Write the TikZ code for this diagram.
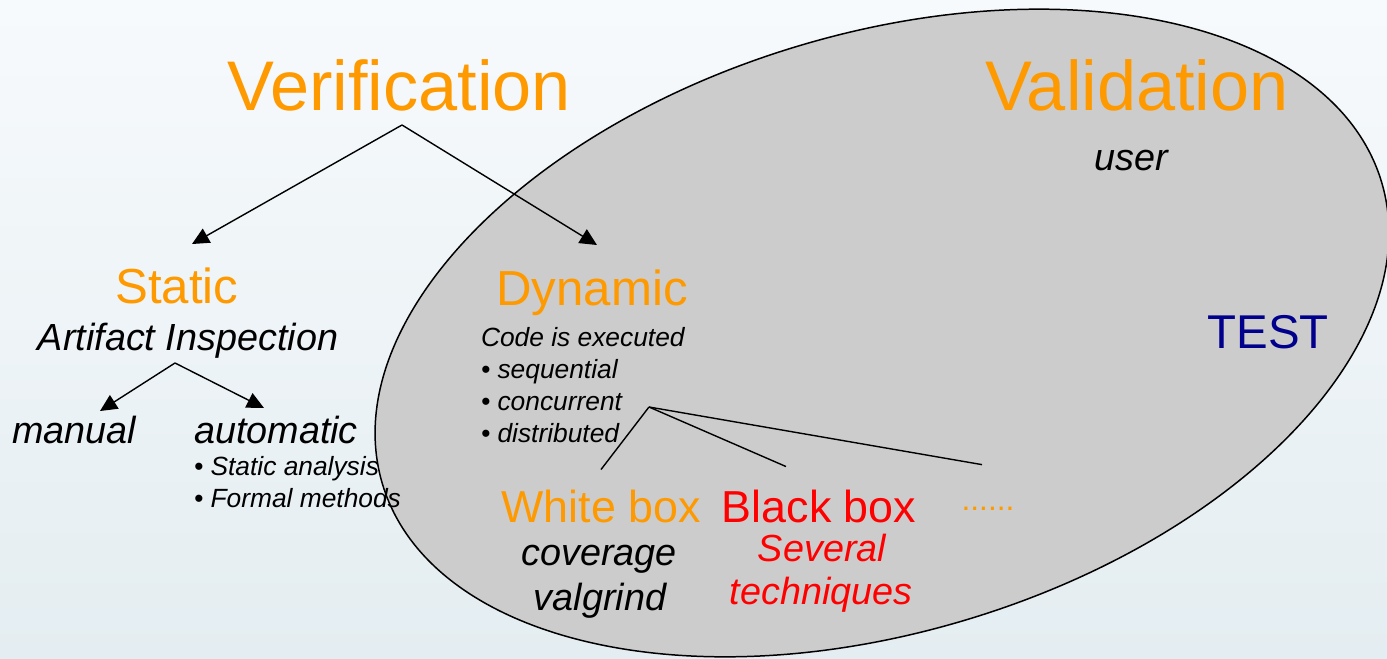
\documentclass[tikz,border=0pt]{standalone}
\usepackage{fontspec}
\setmainfont{Liberation Sans}
\usetikzlibrary{arrows.meta}
\definecolor{vvorange}{RGB}{255,153,0}
\definecolor{vvred}{RGB}{255,0,0}
\definecolor{vvblue}{RGB}{0,0,140}
\definecolor{vvgray}{RGB}{204,204,204}
\definecolor{bgtop}{RGB}{247,250,252}
\definecolor{bgmid}{RGB}{242,247,249}
\definecolor{bgbot}{RGB}{228,237,241}

\begin{document}
\begin{tikzpicture}[x=0.02cm,y=-0.02cm,
    every node/.style={inner sep=0pt,outer sep=0pt,anchor=base},
    title node/.style={text=vvorange,font=\fontsize{40}{48}\selectfont},
    branch node/.style={text=vvorange,font=\fontsize{28}{34}\selectfont},
    leaf node/.style={font=\fontsize{21.5}{26}\selectfont\itshape},
    item node/.style={anchor=base west,font=\fontsize{15}{18}\selectfont\itshape},
    box node/.style={font=\fontsize{25.5}{30}\selectfont},
    arr/.style={-{Triangle[length=0.34cm,width=0.32cm]},line width=0.8pt},
    fan/.style={line width=0.8pt}]

    \useasboundingbox (0,0) rectangle (1387,659);
    \clip (0,0) rectangle (1387,659);
    \shade[top color=bgtop,middle color=bgmid,bottom color=bgbot] (0,0) rectangle (1387,659);
    \draw[fill=vvgray,line width=0.85pt,rotate around={16.9:(882,333)}]
        (882,333) ellipse [x radius=10.44cm,y radius=5.98cm];

    \node[title node] (verif) at (399,110) {Verification};
    \node[title node] (valid) at (1137,110) {Validation};
    \node[leaf node] (user) at (1131,170) {user};
    \node[font=\fontsize{27}{32}\selectfont,text=vvblue] (test) at (1268,348) {TEST};

    \node[branch node] (static) at (177,303) {Static};
    \node[leaf node] (artifact) at (188,350) {Artifact Inspection};
    \node[leaf node] (manual) at (74,443) {manual};
    \node[leaf node] (automatic) at (276,443) {automatic};
    \node[item node] (analysis) at (194,475) {\textbullet\ Static analysis};
    \node[item node] (formal) at (194,507) {\textbullet\ Formal methods};

    \node[branch node] (dynamic) at (592,305) {Dynamic};
    \node[item node] (executed) at (481,346) {Code is executed};
    \node[item node] (sequential) at (481,378) {\textbullet\ sequential};
    \node[item node] (concurrent) at (481,410) {\textbullet\ concurrent};
    \node[item node] (distributed) at (481,442) {\textbullet\ distributed};

    \node[box node,text=vvorange] (white) at (601,522) {White box};
    \node[leaf node] (coverage) at (599,565) {coverage};
    \node[leaf node] (valgrind) at (600,610) {valgrind};
    \node[box node,text=vvred] (black) at (819,522) {Black box};
    \node[leaf node,text=vvred] (several) at (822,561) {Several};
    \node[leaf node,text=vvred] (techniques) at (821,604) {techniques};
    \node[text=vvorange,font=\fontsize{18}{22}\selectfont] (more) at (988,510) {......};

    \coordinate (verif fork) at ([xshift=0.06cm,yshift=-0.3cm]verif.base);
    \coordinate (artifact fork) at ([xshift=-0.26cm,yshift=-0.26cm]artifact.base);
    \coordinate (test fork) at (649,407);

    \path[arr]
        (verif fork) edge ([xshift=0.3cm,yshift=1.18cm]static.base)
        (verif fork) edge ([xshift=0.1cm,yshift=1.2cm]dynamic.base)
        (artifact fork) edge ([xshift=0.52cm,yshift=0.64cm]manual.base)
        (artifact fork) edge ([xshift=-0.24cm,yshift=0.7cm]automatic.base);

    \path[fan]
        (test fork) edge ([yshift=0.4cm]white.north)
        (test fork) edge ([xshift=-0.66cm,yshift=0.46cm]black.north)
        (test fork) edge ([xshift=-0.12cm,yshift=0.84cm]more.north);

\end{tikzpicture}
\end{document}
